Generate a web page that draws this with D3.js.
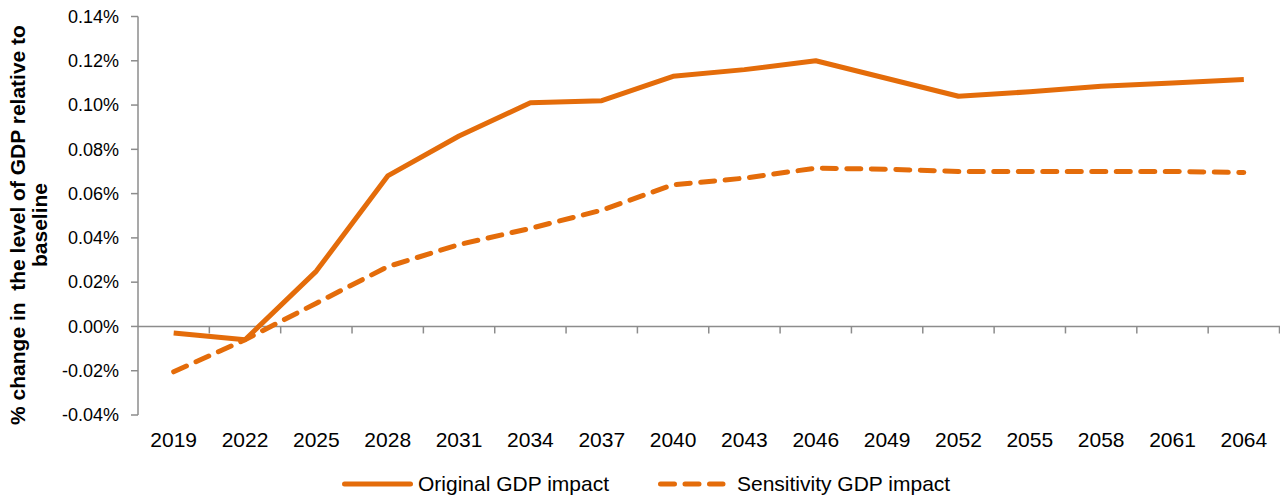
<!DOCTYPE html>
<html><head><meta charset="utf-8">
<script src="https://cdn.jsdelivr.net/npm/d3@7"></script>
<style>body{margin:0;background:#fff;}svg{display:block;font-family:"Liberation Sans",Arial,sans-serif;}</style>
</head><body>
<svg id="c" width="1280" height="497"></svg>
<script>
const categories = ["2019","2022","2025","2028","2031","2034","2037","2040","2043","2046","2049","2052","2055","2058","2061","2064"];
// values in percent
const originalGDP = [-0.003,-0.006,0.025,0.068,0.086,0.101,0.102,0.113,0.116,0.120,0.112,0.104,0.106,0.1085,0.110,0.1115];
const sensitivityGDP = [-0.0205,-0.006,0.0105,0.027,0.037,0.0443,0.0525,0.064,0.067,0.0715,0.071,0.070,0.070,0.070,0.070,0.0695];
const yTicks = [-0.04,-0.02,0,0.02,0.04,0.06,0.08,0.10,0.12,0.14];
const yTickLabels = ["-0.04%","-0.02%","0.00%","0.02%","0.04%","0.06%","0.08%","0.10%","0.12%","0.14%"];
const seriesNames = ["Original GDP impact","Sensitivity GDP impact"];

const svg = d3.select("#c");
const color = "#E46C0A";
const axisColor = "#8c8c8c";
const L = 138, R = 1279.5, T = 16.5, B = 415;
const x = d3.scaleBand().domain(categories).range([L, R]).padding(0);
const y = d3.scaleLinear().domain([-0.04, 0.14]).range([B, T]);

// y axis
svg.append("line").attr("x1",L).attr("x2",L).attr("y1",T).attr("y2",B).attr("stroke",axisColor).attr("stroke-width",1.5);
const yt = svg.append("g");
yTicks.forEach((v,i)=>{
  yt.append("line").attr("x1",L-7).attr("x2",L).attr("y1",y(v)).attr("y2",y(v)).attr("stroke",axisColor).attr("stroke-width",1.5);
  yt.append("text").attr("x",L-19).attr("y",y(v)).attr("dy","0.35em").attr("text-anchor","end")
    .attr("font-size",18).attr("fill","#000").text(yTickLabels[i]);
});
// x axis at zero
const y0 = y(0);
svg.append("line").attr("x1",L).attr("x2",R+1).attr("y1",y0).attr("y2",y0).attr("stroke",axisColor).attr("stroke-width",1.5);
categories.forEach((c,i)=>{
  const xb = x(c) + x.bandwidth();
  svg.append("line").attr("x1",xb).attr("x2",xb).attr("y1",y0).attr("y2",y0+7).attr("stroke",axisColor).attr("stroke-width",1.5);
  svg.append("text").attr("x",x(c)+x.bandwidth()/2).attr("y",447).attr("text-anchor","middle")
    .attr("font-size",21).attr("fill","#000").text(c);
});

const line = d3.line().x((d,i)=>x(categories[i])+x.bandwidth()/2).y(d=>y(d));
svg.append("path").datum(originalGDP).attr("d",line).attr("fill","none").attr("stroke",color)
  .attr("stroke-width",5).attr("stroke-linejoin","round");
svg.append("path").datum(sensitivityGDP).attr("d",line).attr("fill","none").attr("stroke",color)
  .attr("stroke-width",5).attr("stroke-dasharray","14,10.5").attr("stroke-linecap","round");

// y title
const yt2 = svg.append("text").attr("transform",`translate(0,225) rotate(-90)`)
  .attr("text-anchor","middle").attr("font-size",21).attr("font-weight","bold").attr("fill","#000")
  .style("white-space","pre");
yt2.append("tspan").attr("x",0).attr("y",25).text("% change in  the level of GDP relative to");
yt2.append("tspan").attr("x",0).attr("y",47).text("baseline");

// legend
const ly = 484;
svg.append("line").attr("x1",344.5).attr("x2",410.5).attr("y1",ly).attr("y2",ly).attr("stroke",color).attr("stroke-width",5).attr("stroke-linecap","round");
svg.append("text").attr("x",418).attr("y",ly).attr("dy","0.35em").attr("font-size",21).text(seriesNames[0]);
svg.append("line").attr("x1",660.5).attr("x2",723).attr("y1",ly).attr("y2",ly).attr("stroke",color).attr("stroke-width",5)
  .attr("stroke-dasharray","14,10.5").attr("stroke-linecap","round");
svg.append("text").attr("x",737).attr("y",ly).attr("dy","0.35em").attr("font-size",21).text(seriesNames[1]);
</script>
</body></html>
